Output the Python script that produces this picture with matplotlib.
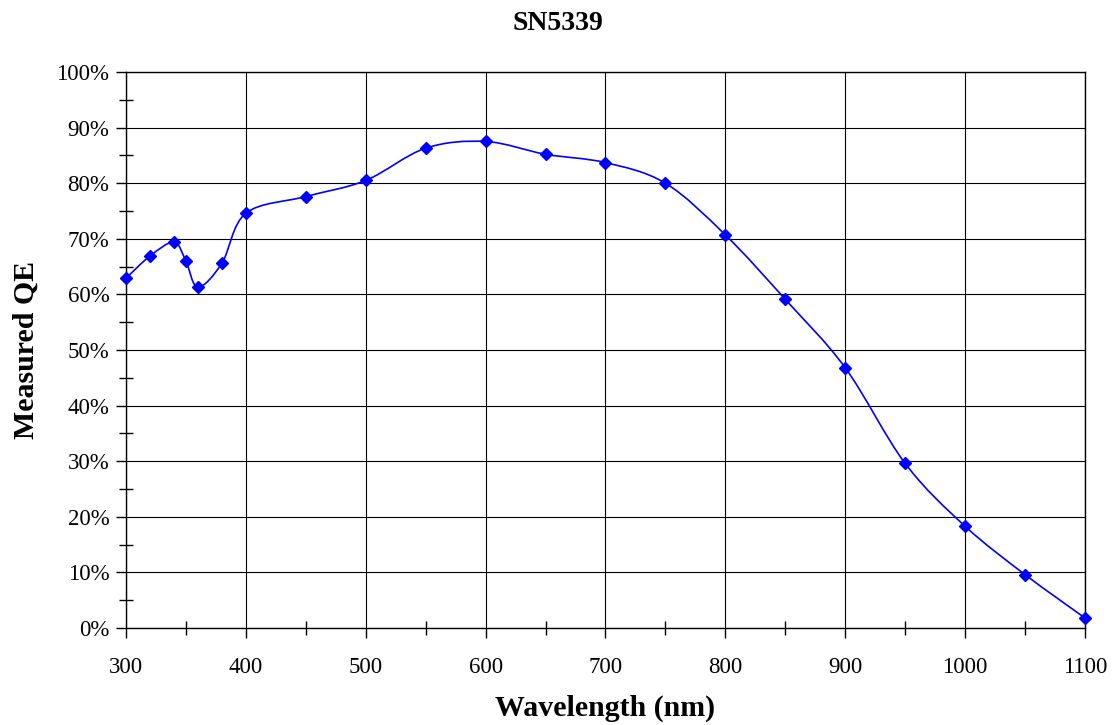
#QE curve plotter

from matplotlib import pyplot as plt
from matplotlib.path import Path
from matplotlib.patches import PathPatch
from matplotlib.ticker import MultipleLocator, PercentFormatter

plt.rcParams['font.family'] = ['Liberation Serif', 'DejaVu Serif']

wavelength = [300, 320, 340, 350, 360, 380, 400, 450, 500, 550, 600,
              650, 700, 750, 800, 850, 900, 950, 1000, 1050, 1100]
qe = [62.9, 66.9, 69.4, 66.0, 61.3, 65.6, 74.6, 77.6, 80.5, 86.3, 87.5,
      85.2, 83.7, 80.0, 70.7, 59.1, 46.8, 29.6, 18.3, 9.6, 1.8]

def smooth_path(x, y): #excel style bezier smoothing through the points
    verts = [(x[0], y[0])]
    codes = [Path.MOVETO]
    n = len(x)
    for i in range(n - 1):
        x0, y0 = (x[i-1], y[i-1]) if i > 0 else (x[i], y[i])
        x3, y3 = (x[i+2], y[i+2]) if i + 2 < n else (x[i+1], y[i+1])
        c1 = (x[i] + (x[i+1] - x0) / 6, y[i] + (y[i+1] - y0) / 6)
        c2 = (x[i+1] - (x3 - x[i]) / 6, y[i+1] - (y3 - y[i]) / 6)
        verts += [c1, c2, (x[i+1], y[i+1])]
        codes += [Path.CURVE4] * 3
    return Path(verts, codes)

fig = plt.figure(figsize=(11.12, 7.25), dpi=100)
ax = fig.add_axes([0.1133, 0.1338, 0.8624, 0.7669])

ax.add_patch(PathPatch(smooth_path(wavelength, qe), facecolor='none',
                       edgecolor='#0000ff', lw=1.2, zorder=3, clip_on=False))
ax.plot(wavelength, qe, linestyle='none', marker='D', color='#0000ff',
        markersize=6.2, zorder=4, clip_on=False)

ax.set_xlim(300, 1100)
ax.set_ylim(0, 100)
ax.xaxis.set_major_locator(MultipleLocator(100))
ax.xaxis.set_minor_locator(MultipleLocator(50))
ax.yaxis.set_major_locator(MultipleLocator(10))
ax.yaxis.set_minor_locator(MultipleLocator(5))
ax.yaxis.set_major_formatter(PercentFormatter(decimals=0))
ax.grid(True, which='major', color='black', lw=0.8)
ax.tick_params(which='major', direction='out', length=7, width=1, labelsize=16.5, pad=5)
ax.tick_params(axis='x', which='major', pad=14)
ax.tick_params(which='minor', direction='inout', length=10, width=1)
for s in ax.spines.values():
    s.set_linewidth(1)

ax.set_xlabel('Wavelength (nm)', fontsize=21.5, fontweight='bold', labelpad=12)
ax.set_ylabel('Measured QE', fontsize=21.5, fontweight='bold', labelpad=12)
fig.text(0.502, 0.968, 'SN5339', fontsize=20, fontweight='bold', ha='center', va='center')

plt.savefig('out.png', dpi=100)
